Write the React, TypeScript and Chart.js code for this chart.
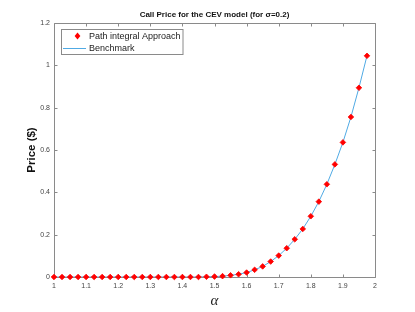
import React, { useEffect, useRef } from "react";
import { Chart, registerables } from "chart.js";

Chart.register(...registerables);

const alphas: number[] = [
  1.0, 1.025, 1.05, 1.075, 1.1, 1.125, 1.15, 1.175, 1.2, 1.225,
  1.25, 1.275, 1.3, 1.325, 1.35, 1.375, 1.4, 1.425, 1.45, 1.475,
  1.5, 1.525, 1.55, 1.575, 1.6, 1.625, 1.65, 1.675, 1.7, 1.725,
  1.75, 1.775, 1.8, 1.825, 1.85, 1.875, 1.9, 1.925, 1.95, 1.975,
];
const pathIntegral: number[] = [
  0, 0, 0, 0, 0, 0, 0, 0, 0, 0,
  0, 0, 0, 0, 0, 0, 0, 0, 0, 0.001,
  0.002, 0.004, 0.008, 0.013, 0.021, 0.034, 0.05, 0.073, 0.101, 0.136,
  0.178, 0.227, 0.287, 0.356, 0.438, 0.532, 0.636, 0.756, 0.894, 1.045,
];
const benchmark: number[] = [
  0, 0, 0, 0, 0, 0, 0, 0, 0, 0,
  0, 0, 0, 0, 0, 0, 0, 0, 0, 0.001,
  0.002, 0.004, 0.008, 0.013, 0.021, 0.034, 0.05, 0.073, 0.101, 0.136,
  0.178, 0.227, 0.287, 0.356, 0.438, 0.532, 0.636, 0.756, 0.894, 1.045,
];
const xTicks: number[] = [1, 1.1, 1.2, 1.3, 1.4, 1.5, 1.6, 1.7, 1.8, 1.9, 2];
const yTicks: number[] = [0, 0.2, 0.4, 0.6, 0.8, 1, 1.2];
const titleText = "Call Price for the CEV model (for σ=0.2)";
const xTitle = "α";
const yTitle = "Price ($)";
const seriesLabels = ["Path integral Approach", "Benchmark"];

const RED = "#ff0000";
const BLUE = "rgb(80,170,228)";
const AXIS = "#8a8a8a";
const TICKTXT = "#444";

const boxPlugin = {
  id: "matlabBox",
  beforeDatasetsDraw(chart: any) {
    const { ctx, chartArea: a, scales } = chart;
    const x = scales.x, y = scales.y;
    ctx.save();
    ctx.strokeStyle = AXIS;
    ctx.lineWidth = 1;
    const L = Math.round(a.left) + 0.5, R = Math.round(a.right) + 0.5;
    const T = Math.round(a.top) + 0.5, B = Math.round(a.bottom) + 0.5;
    ctx.beginPath();
    ctx.rect(L, T, R - L, B - T);
    ctx.stroke();
    const tl = 3;
    ctx.beginPath();
    xTicks.forEach((v) => {
      const px = Math.round(x.getPixelForValue(v)) + 0.5;
      ctx.moveTo(px, B); ctx.lineTo(px, B - tl);
      ctx.moveTo(px, T); ctx.lineTo(px, T + tl);
    });
    yTicks.forEach((v) => {
      const py = Math.round(y.getPixelForValue(v)) + 0.5;
      ctx.moveTo(L, py); ctx.lineTo(L + tl, py);
      ctx.moveTo(R, py); ctx.lineTo(R - tl, py);
    });
    ctx.stroke();
    ctx.restore();
  },
};

const overlayPlugin = {
  id: "matlabOverlay",
  afterDraw(chart: any) {
    const { ctx, chartArea: a } = chart;
    ctx.save();
    ctx.fillStyle = "#111";
    ctx.font = "bold 8px 'Liberation Sans', Arial, sans-serif";
    ctx.textAlign = "center";
    ctx.textBaseline = "middle";
    ctx.fillText(titleText, (a.left + a.right) / 2, 15);

    const lx = 61.5, ly = 29.5, lw = 121.5, lh = 25;
    ctx.fillStyle = "#fff";
    ctx.fillRect(lx, ly, lw, lh);
    ctx.strokeStyle = "#8a8a8a";
    ctx.lineWidth = 1;
    ctx.strokeRect(lx, ly, lw, lh);
    const mx = 77.5, my = 36;
    ctx.fillStyle = RED;
    ctx.beginPath();
    ctx.moveTo(mx, my - 3.4);
    ctx.lineTo(mx + 2.9, my);
    ctx.lineTo(mx, my + 3.4);
    ctx.lineTo(mx - 2.9, my);
    ctx.closePath();
    ctx.fill();
    ctx.strokeStyle = BLUE;
    ctx.beginPath();
    ctx.moveTo(63, 48.5);
    ctx.lineTo(86, 48.5);
    ctx.stroke();
    ctx.fillStyle = "#222";
    ctx.font = "9px 'Liberation Sans', Arial, sans-serif";
    ctx.textAlign = "left";
    ctx.fillText(seriesLabels[0], 89, 36.5);
    ctx.fillText(seriesLabels[1], 89, 48.5);
    ctx.restore();
  },
};

export default function App() {
  const ref = useRef<HTMLCanvasElement>(null);
  useEffect(() => {
    document.body.style.margin = "0";
    const chart = new Chart(ref.current!, {
      type: "line",
      data: {
        datasets: [
          {
            label: seriesLabels[0],
            data: alphas.map((a, i) => ({ x: a, y: pathIntegral[i] })),
            showLine: false,
            pointStyle: "rectRot",
            pointRadius: 2.8,
            pointBackgroundColor: RED,
            pointBorderColor: RED,
            pointBorderWidth: 0.8,
            clip: false,
            order: 0,
          },
          {
            label: seriesLabels[1],
            data: alphas.map((a, i) => ({ x: a, y: benchmark[i] })),
            borderColor: BLUE,
            borderWidth: 1,
            pointRadius: 0,
            fill: false,
            tension: 0,
            order: 1,
          },
        ],
      },
      options: {
        animation: false,
        responsive: false,
        devicePixelRatio: 1,
        layout: { padding: { top: 23, right: 40, left: 0, bottom: 0 } },
        plugins: {
          legend: { display: false },
          title: { display: false },
          tooltip: { enabled: false },
        },
        scales: {
          x: {
            type: "linear",
            min: 1,
            max: 2,
            afterFit: (s: any) => { s.height = 35; },
            afterBuildTicks: (s: any) => { s.ticks = xTicks.map((v) => ({ value: v })); },
            grid: { display: false, drawTicks: false },
            border: { display: false },
            ticks: {
              color: TICKTXT,
              font: { size: 7, family: "'Liberation Sans', Arial, sans-serif" },
              padding: 5,
              maxRotation: 0,
              autoSkip: false,
              callback: (v: any) => String(Number(Number(v).toFixed(1))),
            },
            title: {
              display: true,
              text: xTitle,
              color: "#222",
              font: { size: 15, style: "italic", family: "'Liberation Serif', 'DejaVu Serif', serif" },
              padding: { top: 0, bottom: 2 },
            },
          },
          y: {
            type: "linear",
            min: 0,
            max: 1.2,
            afterFit: (s: any) => { s.width = 54; },
            afterBuildTicks: (s: any) => { s.ticks = yTicks.map((v) => ({ value: v })); },
            grid: { display: false, drawTicks: false },
            border: { display: false },
            ticks: {
              color: TICKTXT,
              font: { size: 7, family: "'Liberation Sans', Arial, sans-serif" },
              padding: 4,
              autoSkip: false,
              callback: (v: any) => String(Number(Number(v).toFixed(1))),
            },
            title: {
              display: true,
              text: yTitle,
              color: "#111",
              font: { size: 11.5, weight: "bold", family: "'Liberation Sans', Arial, sans-serif" },
              padding: { top: 25, bottom: 0 },
            },
          },
        },
      },
      plugins: [boxPlugin, overlayPlugin],
    });
    return () => chart.destroy();
  }, []);
  return (
    <div style={{ width: 415, height: 312, background: "#fff" }}>
      <canvas ref={ref} width={415} height={312} style={{ display: "block" }} />
    </div>
  );
}
